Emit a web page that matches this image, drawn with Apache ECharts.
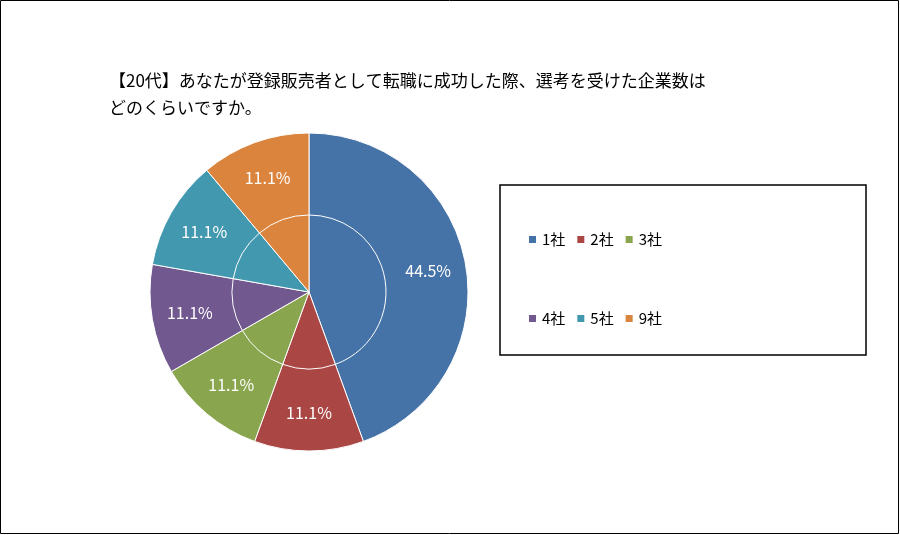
<!DOCTYPE html>
<html>
<head>
<meta charset="utf-8">
<script src="https://cdn.jsdelivr.net/npm/echarts@6/dist/echarts.min.js"></script>
<style>
  html, body { margin: 0; padding: 0; background: #fff; }
  #chart { width: 900px; height: 535px; }
</style>
</head>
<body>
<div id="chart"></div>
<script>
var categories = ['1社', '2社', '3社', '4社', '5社', '9社'];
var values = [4, 1, 1, 1, 1, 1];
var colors = ['#4572A7', '#AA4643', '#89A54E', '#71588F', '#4198AF', '#DB843D'];

var pieData = categories.map(function (name, i) {
    return { name: name, value: values[i], itemStyle: { color: colors[i] } };
});

var font = '"Noto Sans CJK JP", "Liberation Sans", sans-serif';
var myChart = echarts.init(document.getElementById('chart'));
myChart.setOption({
    animation: false,
    textStyle: { fontFamily: font },
    title: {
        text: '【20代】あなたが登録販売者として転職に成功した際、選考を受けた企業数は\nどのくらいですか。',
        left: 104,
        top: 62,
        textStyle: { fontSize: 17, fontWeight: 'normal', color: '#000', lineHeight: 27, fontFamily: font }
    },
    legend: [{
        data: categories.slice(0, 3),
        left: 522, top: 227,
        icon: 'rect', itemWidth: 9, itemHeight: 9, itemGap: 10,
        textStyle: { fontSize: 15, color: '#000', width: 70 }
    }, {
        data: categories.slice(3),
        left: 522, top: 306,
        icon: 'rect', itemWidth: 9, itemHeight: 9, itemGap: 10,
        textStyle: { fontSize: 15, color: '#000', width: 70 }
    }],
    graphic: [{
        type: 'rect', shape: { x: 0.5, y: 0.5, width: 898, height: 533 },
        style: { fill: 'none', stroke: '#000', lineWidth: 1 }, silent: true
    }, {
        type: 'rect', shape: { x: 500, y: 185, width: 366, height: 170 },
        style: { fill: 'none', stroke: '#000', lineWidth: 1.5 }, silent: true
    }],
    series: [{
        type: 'pie',
        center: [309, 292],
        radius: [0, 159],
        data: pieData,
        label: { show: false },
        labelLine: { show: false },
        itemStyle: { borderColor: '#fff', borderWidth: 1 },
        silent: true
    }, {
        type: 'pie',
        center: [309, 292],
        radius: [77, 159],
        data: pieData,
        label: {
            position: 'inside',
            color: '#fff',
            fontSize: 16,
            formatter: function (p) { return p.percent.toFixed(1) + '%'; }
        },
        itemStyle: { borderColor: '#fff', borderWidth: 1 },
        silent: true
    }]
});
</script>
</body>
</html>
